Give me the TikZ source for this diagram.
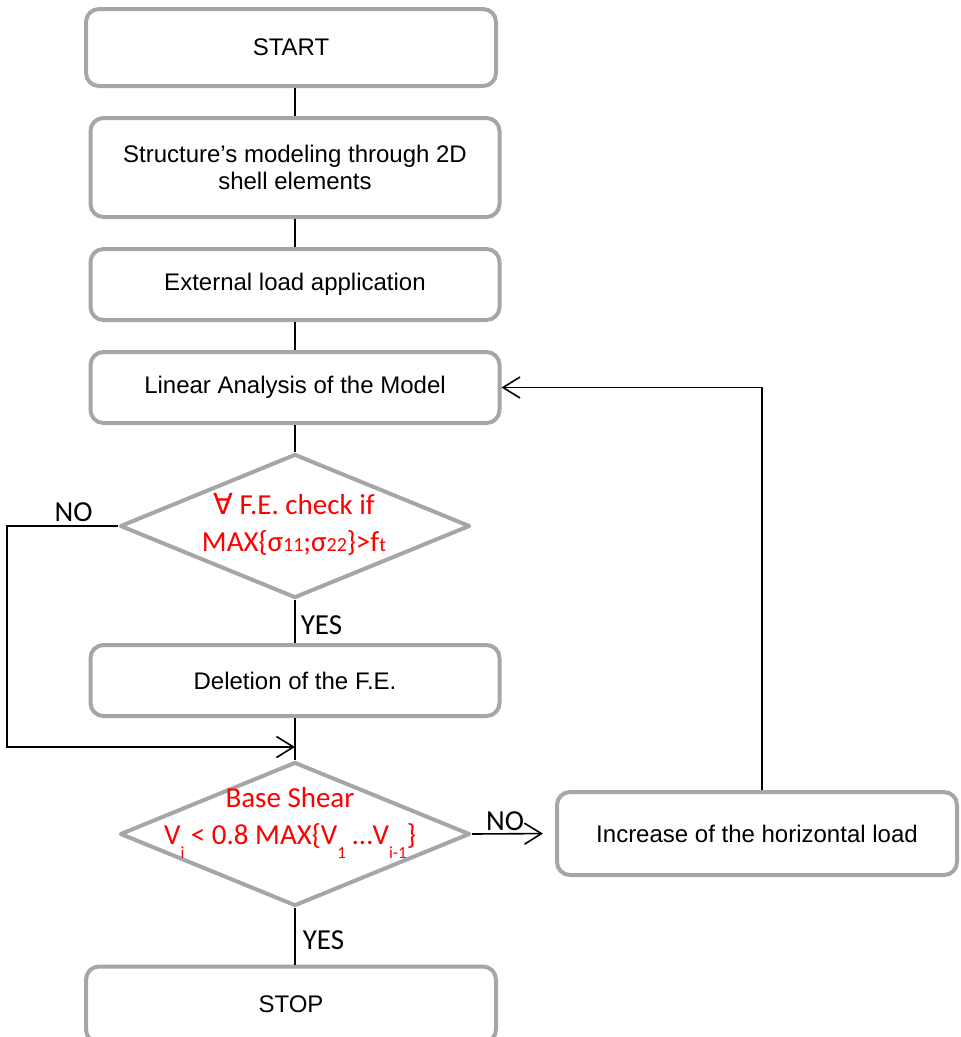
\documentclass[tikz,border=0pt]{standalone}
\usepackage{fontspec}
\setmainfont{Liberation Sans}
\newfontfamily\calibri{Carlito}
\newfontfamily\dejavu{DejaVu Sans}
\usetikzlibrary{shapes.geometric,arrows.meta}
\definecolor{boxgray}{HTML}{A6A6A6}
\newcommand{\smtxt}[1]{{\fontsize{20}{20}\selectfont #1}}
\newcommand{\lowtxt}[1]{\raisebox{-14pt}[0pt][0pt]{\fontsize{17}{17}\selectfont #1}}

\begin{document}
\begin{tikzpicture}[x=1pt,y=-1pt,
    block/.style={draw=boxgray, line width=4pt, rounded corners=13pt, minimum width=409pt,
        inner sep=0pt, align=center, font=\fontsize{24}{27}\selectfont},
    decision/.style={draw=boxgray, line width=4pt, line join=round, diamond,
        minimum width=350pt, minimum height=144pt, inner sep=0pt},
    cond/.style={text=red, align=center, inner sep=0pt, font=\calibri\fontsize{29}{37}\selectfont},
    lbl/.style={font=\calibri\fontsize{29}{29}\selectfont, inner sep=0pt},
    line/.style={line width=1.6pt},
    arr/.style={line width=1.6pt, -{Straight Barb[length=17pt,width=21pt]}}]
    \useasboundingbox (0,0) rectangle (961,1037);
    \clip (0,0) rectangle (961,1037);

    % main column
    \node[block, minimum width=410pt, minimum height=77pt] (start) at (291,47.5) {START};
    \node[block, minimum height=99pt] (model) at (295,167.5) {Structure’s modeling through 2D\\shell elements};
    \node[block, minimum height=71pt] (load) at (295,284.5) {External load application};
    \node[block, minimum height=71pt] (lin) at (295,387.5) {Linear Analysis of the Model};
    \node[decision] (chk) at (295,526) {};
    \node[cond] (chktxt) at (294,524) {{\dejavu ∀} F.E. check if\\MAX\{σ\smtxt{11};σ\smtxt{22}\}>f\smtxt{t}};
    \node[block, minimum height=71pt] (dele) at (295,680.5) {Deletion of the F.E.};
    \node[decision] (shear) at (295,834) {};
    \node[cond] (sheartxt) at (290,818) {Base Shear\\V\lowtxt{i} < 0.8 MAX\{V\lowtxt{1} …V\lowtxt{i-1}\}};
    \node[block, minimum width=410pt, minimum height=76pt] (stop) at (291,1004.5) {STOP};

    % side box
    \node[block, minimum width=400pt, minimum height=83pt] (inc) at (757,833.5) {Increase of the horizontal load};

    \coordinate (join) at (295,747);

    \draw[line] (start.south -| model.north) -- (model.north);
    \draw[line] (model.south) -- (load.north);
    \draw[line] (load.south) -- (lin.north);
    \draw[line] (lin.south) -- (chk.north);
    \draw[line] (chk.south) -- node[lbl, pos=0.81, anchor=base west, xshift=5pt] {YES} (dele.north);
    \draw[line] (dele.south) -- (shear.north);
    \draw[line] (shear.south) -- node[lbl, pos=0.74, anchor=base west, xshift=7pt] {YES} (stop.north -| shear.south);

    % loops
    \draw[arr] (chk.west) -- node[lbl, pos=0.4, anchor=base, yshift=5pt] {NO} ++(-111,0) |- (join);
    \draw[arr, shorten >=12pt] (shear.east) -- node[lbl, pos=0.4, anchor=base, yshift=3pt] {NO} (inc.west);
    \draw[arr] ([xshift=5pt]inc.north) |- (lin.east);

\end{tikzpicture}
\end{document}
